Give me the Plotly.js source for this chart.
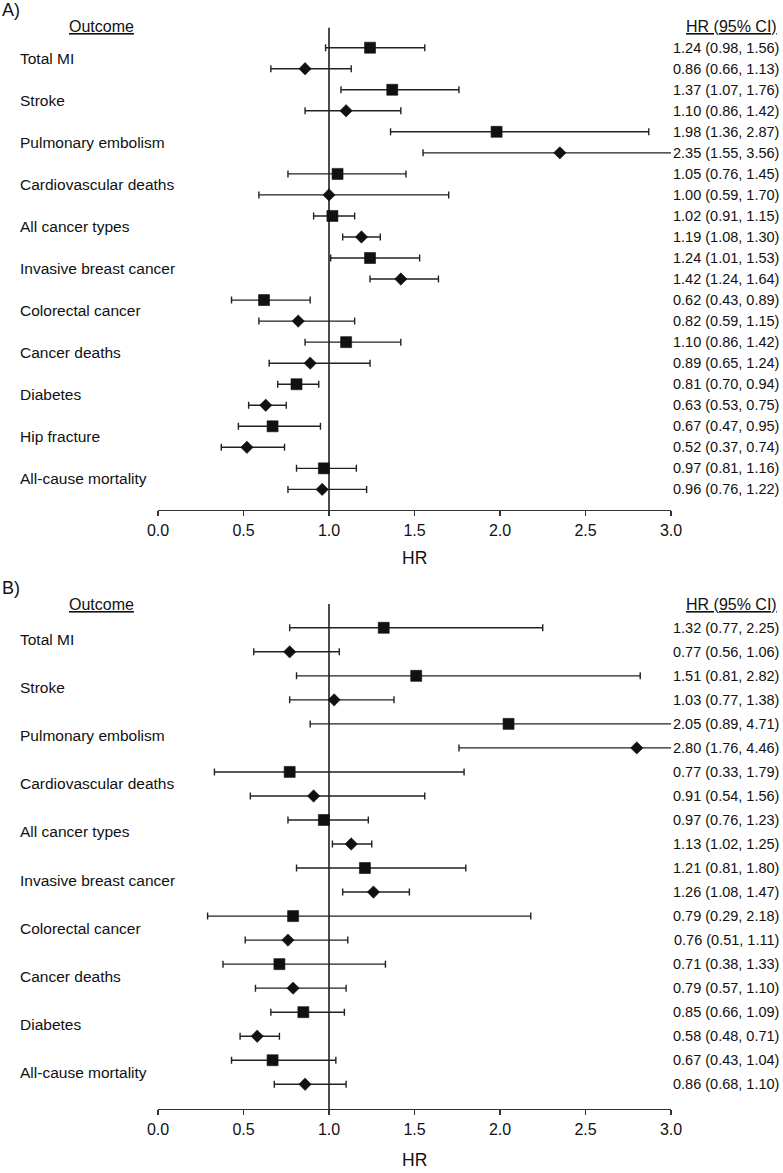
<!DOCTYPE html>
<html>
<head>
<meta charset="utf-8">
<script src="https://cdn.plot.ly/plotly-3.0.1.min.js"></script>
<style>
  html, body { margin: 0; padding: 0; background: #fff; }
  #chart { width: 783px; height: 1173px; }
</style>
</head>
<body>
<div id="chart"></div>
<script>
// outcomes, shared by both panels (panel B has no hip fracture)
var outcomesA = ['Total MI', 'Stroke', 'Pulmonary embolism', 'Cardiovascular deaths', 'All cancer types',
  'Invasive breast cancer', 'Colorectal cancer', 'Cancer deaths', 'Diabetes', 'Hip fracture', 'All-cause mortality'];
var outcomesB = ['Total MI', 'Stroke', 'Pulmonary embolism', 'Cardiovascular deaths', 'All cancer types',
  'Invasive breast cancer', 'Colorectal cancer', 'Cancer deaths', 'Diabetes', 'All-cause mortality'];

// rows go square, diamond, square, diamond ... (two rows per outcome)
var hrA = [1.24, 0.86, 1.37, 1.10, 1.98, 2.35, 1.05, 1.00, 1.02, 1.19, 1.24, 1.42, 0.62, 0.82, 1.10, 0.89, 0.81, 0.63, 0.67, 0.52, 0.97, 0.96];
var loA = [0.98, 0.66, 1.07, 0.86, 1.36, 1.55, 0.76, 0.59, 0.91, 1.08, 1.01, 1.24, 0.43, 0.59, 0.86, 0.65, 0.70, 0.53, 0.47, 0.37, 0.81, 0.76];
var hiA = [1.56, 1.13, 1.76, 1.42, 2.87, 3.56, 1.45, 1.70, 1.15, 1.30, 1.53, 1.64, 0.89, 1.15, 1.42, 1.24, 0.94, 0.75, 0.95, 0.74, 1.16, 1.22];

var hrB = [1.32, 0.77, 1.51, 1.03, 2.05, 2.80, 0.77, 0.91, 0.97, 1.13, 1.21, 1.26, 0.79, 0.76, 0.71, 0.79, 0.85, 0.58, 0.67, 0.86];
var loB = [0.77, 0.56, 0.81, 0.77, 0.89, 1.76, 0.33, 0.54, 0.76, 1.02, 0.81, 1.08, 0.29, 0.51, 0.38, 0.57, 0.66, 0.48, 0.43, 0.68];
var hiB = [2.25, 1.06, 2.82, 1.38, 4.71, 4.46, 1.79, 1.56, 1.23, 1.25, 1.80, 1.47, 2.18, 1.11, 1.33, 1.10, 1.09, 0.71, 1.04, 1.10];

var xTicks = [0, 0.5, 1, 1.5, 2, 2.5, 3];

var W = 783, H = 1173, ML = 158, MR = 112;
var FONT = 'Arial, "Liberation Sans", sans-serif';
var INK = '#111';

function px2x(px) { return (px - ML) / (W - ML - MR); }
function py2y(py) { return 1 - py / H; }

function panelTrace(hr, lo, hi, xa, ya) {
  var rows = hr.map(function (v, i) { return i; });
  return {
    type: 'scatter', mode: 'markers',
    x: hr, y: rows, xaxis: xa, yaxis: ya,
    marker: {
      color: INK, opacity: 1,
      symbol: rows.map(function (i) { return i % 2 ? 'diamond' : 'square'; }),
      size: rows.map(function (i) { return i % 2 ? 9.5 : 11; }),
      line: {color: INK, width: 0.6}
    },
    error_x: {
      type: 'data', symmetric: false,
      array: hi.map(function (v, i) { return v - hr[i]; }),
      arrayminus: lo.map(function (v, i) { return hr[i] - v; }),
      color: '#222', thickness: 1.4, width: 3.5
    },
    hoverinfo: 'skip', showlegend: false
  };
}

var data = [
  panelTrace(hrA, loA, hiA, 'x', 'y'),
  panelTrace(hrB, loB, hiB, 'x2', 'y2')
];

var annotations = [];
function txt(t, x, y, xref, yref, size, xanchor) {
  annotations.push({
    text: t, x: x, y: y, xref: xref, yref: yref, showarrow: false,
    xanchor: xanchor, yanchor: 'middle', font: {family: FONT, size: size, color: INK}
  });
}

function panelText(tag, outcomes, hr, lo, hi, ya, topPx, hrPx) {
  txt(tag, px2x(0), py2y(topPx - 16.5), 'paper', 'paper', 18, 'left');
  txt('<u>Outcome</u>', px2x(101), py2y(topPx), 'paper', 'paper', 16, 'center');
  txt('<u>HR (95% CI)</u>', px2x(779), py2y(topPx), 'paper', 'paper', 16, 'right');
  outcomes.forEach(function (o, k) {
    txt(o, px2x(18), 2 * k + 0.5, 'paper', ya, 15.5, 'left');
  });
  hr.forEach(function (v, i) {
    var s = v.toFixed(2) + ' (' + lo[i].toFixed(2) + ', ' + hi[i].toFixed(2) + ')';
    txt(s, px2x(781), i, 'paper', ya, 14.5, 'right');
  });
  txt('HR', 0.5, py2y(hrPx), 'paper', 'paper', 17.5, 'center');
}
panelText('A)', outcomesA, hrA, loA, hiA, 'y', 26.7, 558);
panelText('B)', outcomesB, hrB, loB, hiB, 'y2', 604, 1160);

function xAxis(anchor) {
  return {
    anchor: anchor, range: [0, 3], tickvals: xTicks, tickformat: '.1f',
    ticks: 'outside', ticklen: 5, tickwidth: 1.3, tickcolor: '#333',
    showline: true, linecolor: '#333', linewidth: 1.3,
    showgrid: false, zeroline: false,
    tickfont: {family: FONT, size: 16, color: INK}, fixedrange: true
  };
}
function yAxis(anchor, domain, range) {
  return {
    anchor: anchor, domain: domain, range: range,
    showticklabels: false, showgrid: false, zeroline: false, showline: false,
    ticks: '', fixedrange: true
  };
}

var layout = {
  width: W, height: H,
  margin: {l: ML, r: MR, t: 0, b: 0},
  paper_bgcolor: '#fff', plot_bgcolor: '#fff',
  font: {family: FONT, color: INK},
  xaxis: xAxis('y'),
  xaxis2: xAxis('y2'),
  yaxis: yAxis('x', [py2y(510), py2y(27.7)], [21.98, -0.95]),
  yaxis2: yAxis('x2', [py2y(1109), py2y(604)], [20.03, -0.99]),
  shapes: [
    {type: 'line', xref: 'x', yref: 'y domain', x0: 1, x1: 1, y0: 0, y1: 1, line: {color: INK, width: 1.5}, layer: 'below'},
    {type: 'line', xref: 'x2', yref: 'y2 domain', x0: 1, x1: 1, y0: 0, y1: 1, line: {color: INK, width: 1.5}, layer: 'below'}
  ],
  annotations: annotations
};

Plotly.newPlot('chart', data, layout, {displayModeBar: false, staticPlot: true});
</script>
</body>
</html>
